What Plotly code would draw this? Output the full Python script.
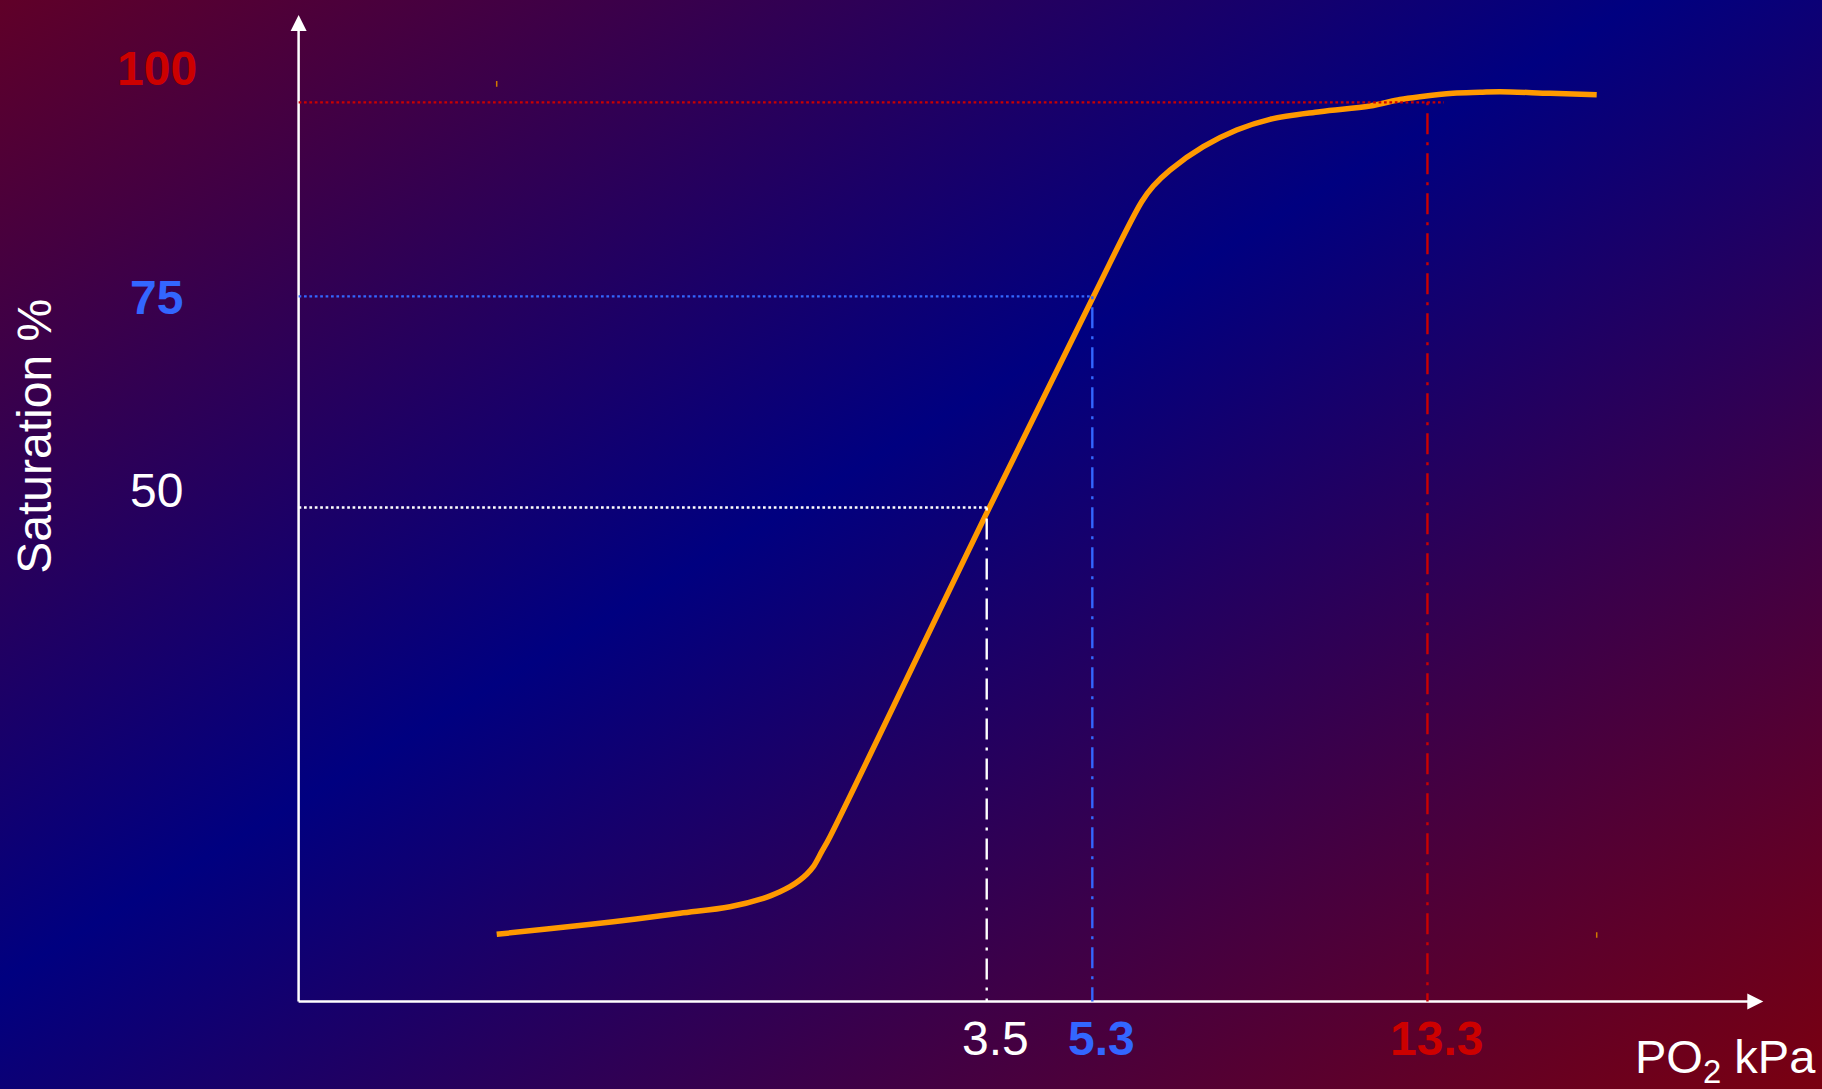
import base64
import plotly.graph_objects as go

# ---------------- data (schematic axis units) ----------------
# oxygen dissociation curve, x = PO2 (schematic position), y = saturation (%)
curve_x = [13.525, 16.939, 21.486, 26.040, 29.453, 31.727, 32.867, 33.549, 34.232,
           34.689, 35.140, 35.714, 36.280, 47.156, 54.257, 57.561, 58.353, 59.494,
           61.767, 64.047, 66.321, 69.734, 73.148, 75.196, 76.562, 78.815, 80.658,
           82.023, 85.437, 88.626]
curve_y = [7.473, 8.063, 8.875, 9.809, 10.543, 11.477, 12.211, 12.767, 13.512,
           14.146, 14.991, 16.659, 18.327, 54.915, 78.381, 88.946, 90.692, 92.471,
           95.062, 96.919, 98.109, 98.955, 99.589, 100.311, 100.623, 101.001, 101.112,
           101.179, 101.001, 100.845]

# reference levels: saturation label, level height, matching PO2 label and position
sat_labels = ["100", "75", "50"]
sat_levels = [100.0, 78.42, 54.94]
po2_labels = ["13.3", "5.3", "3.5"]
po2_pos = [77.07, 54.19, 46.98]

X_MAX = 100.0
Y_MAX = 109.71

# ---------------- styles ----------------
W, H = 1822, 1089
FONT = "Liberation Sans, Arial, sans-serif"
ref_colors = ["#cc0000", "#3366ff", "#ffffff"]
ref_bold = [True, True, False]
h_overhang_px = [16.5, 0, 0]
sat_label_yshift = [33.7, -0.7, 16.8]
x_left_px, x_right_px = 298.6, 1763.3
y_bottom_px, y_top_px = 1001.5, 15.0
PAD = 12  # px of empty axis space kept below/left of the axis lines
px_per_x = (x_right_px - x_left_px) / X_MAX
px_per_y = (y_bottom_px - y_top_px) / Y_MAX

svg = (
    f'<svg xmlns="http://www.w3.org/2000/svg" width="{W}" height="{H}" '
    f'viewBox="0 0 {W} {H}" preserveAspectRatio="none">'
    '<defs><linearGradient id="g" x1="0" y1="0" x2="1" y2="1">'
    '<stop offset="0" stop-color="#600028"/>'
    '<stop offset="0.45" stop-color="#000080"/>'
    '<stop offset="1" stop-color="#7a0010"/>'
    '</linearGradient></defs>'
    f'<rect width="{W}" height="{H}" fill="url(#g)"/></svg>'
)
bg_src = "data:image/svg+xml;base64," + base64.b64encode(svg.encode()).decode()

fig = go.Figure()
fig.add_trace(go.Scatter(
    x=curve_x, y=curve_y, mode="lines",
    line=dict(color="#ff9900", width=5.5, shape="spline", smoothing=1.0),
    hoverinfo="skip", showlegend=False,
))

# arrow heads at the axis tips
fig.add_trace(go.Scatter(
    x=[X_MAX, 0], y=[0, Y_MAX], mode="markers", cliponaxis=False,
    marker=dict(symbol=["arrow-right", "arrow-up"], size=16, color="#ffffff",
                line=dict(width=0)),
    hoverinfo="skip", showlegend=False,
))

shapes = [
    # axis lines
    dict(type="line", xref="x", yref="y", x0=0, x1=X_MAX - 8 / px_per_x, y0=0, y1=0,
         layer="above", line=dict(color="#ffffff", width=2.5)),
    dict(type="line", xref="x", yref="y", x0=0, x1=0, y0=0, y1=Y_MAX - 8 / px_per_y,
         layer="above", line=dict(color="#ffffff", width=2.5)),
]
annotations = []
for lab, lvl, plab, pos, col, bold, over, ysh in zip(
        sat_labels, sat_levels, po2_labels, po2_pos, ref_colors, ref_bold,
        h_overhang_px, sat_label_yshift):
    # horizontal dotted line from y-axis to the curve
    shapes.append(dict(type="line", xref="x", yref="y", x0=0, x1=pos + over / px_per_x,
                       y0=lvl, y1=lvl, layer="above",
                       line=dict(color=col, width=2.3, dash="2.7px,2.7px")))
    # vertical dash-dot line down to the x-axis
    shapes.append(dict(type="line", xref="x", yref="y", x0=pos, x1=pos,
                       y0=lvl, y1=0, layer="above",
                       line=dict(color=col, width=2.4, dash="3px,8px,21px,8px")))
    t = f"<b>{lab}</b>" if bold else lab
    annotations.append(dict(xref="x", yref="y", x=0, y=lvl, text=t, showarrow=False,
                            xshift=-142, yshift=ysh, xanchor="center", yanchor="middle",
                            font=dict(family=FONT, size=48, color=col)))
    t2 = f"<b>{plab}</b>" if bold else plab
    annotations.append(dict(xref="x", yref="y", x=pos, y=0, text=t2, showarrow=False,
                            xshift=9, yshift=-36.5, xanchor="center", yanchor="middle",
                            font=dict(family=FONT, size=48, color=col)))

# small selection ticks at the curve's bounding-box corners
shapes.append(dict(type="line", xref="x", yref="y", x0=min(curve_x), x1=min(curve_x),
                   ysizemode="pixel", yanchor=max(curve_y), y0=5, y1=10.7,
                   line=dict(color="#d07800", width=1.5)))
shapes.append(dict(type="line", xref="x", yref="y", x0=max(curve_x), x1=max(curve_x),
                   ysizemode="pixel", yanchor=min(curve_y), y0=-3.4, y1=2.0,
                   line=dict(color="#d07800", width=1.5)))

annotations.append(dict(xref="paper", yref="paper", x=35 / W, y=1 - 436.7 / H,
                        text="Saturation %", textangle=-90, showarrow=False,
                        xanchor="center", yanchor="middle",
                        font=dict(family=FONT, size=48, color="#ffffff")))
annotations.append(dict(xref="paper", yref="paper", x=1818 / W, y=1 - 1060 / H,
                        text="PO<sub>2</sub> kPa", showarrow=False,
                        xanchor="right", yanchor="middle",
                        font=dict(family=FONT, size=47, color="#ffffff")))

fig.update_layout(
    width=W, height=H, autosize=False,
    margin=dict(l=0, r=0, t=0, b=0),
    paper_bgcolor="#1a0060", plot_bgcolor="rgba(0,0,0,0)",
    images=[dict(source=bg_src, xref="paper", yref="paper", x=0, y=1, sizex=1, sizey=1,
                 xanchor="left", yanchor="top", sizing="stretch", layer="below")],
    xaxis=dict(domain=[(x_left_px - PAD) / W, x_right_px / W],
               range=[-PAD / px_per_x, X_MAX],
               showgrid=False, zeroline=False, showticklabels=False, showline=False,
               fixedrange=True),
    yaxis=dict(domain=[1 - (y_bottom_px + PAD) / H, 1 - y_top_px / H],
               range=[-PAD / px_per_y, Y_MAX],
               showgrid=False, zeroline=False, showticklabels=False, showline=False,
               fixedrange=True),
    shapes=shapes, annotations=annotations, showlegend=False,
)

fig.write_html("out.html", config={"displayModeBar": False},
               post_script="document.body.style.margin='0';document.body.style.overflow='hidden';")
